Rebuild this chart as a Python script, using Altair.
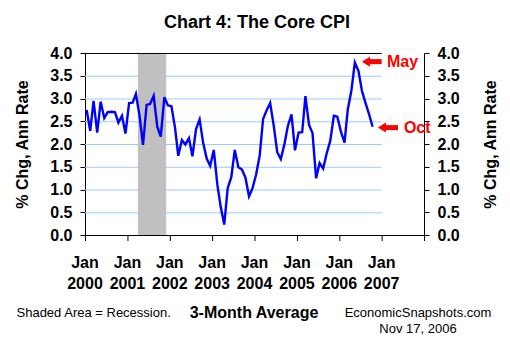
import altair as alt
import pandas as pd

# ---- data ----
core_cpi = [
    2.75, 2.29, 2.95, 2.25, 2.93, 2.57, 2.70, 2.71, 2.70, 2.47, 2.62, 2.23,  # 2000
    2.90, 2.91, 3.10, 2.62, 1.98, 2.86, 2.88, 3.06, 2.38, 2.16, 3.03, 2.85,  # 2001
    2.83, 2.36, 1.74, 2.09, 1.99, 2.13, 1.73, 2.33, 2.54, 2.03, 1.68, 1.52,  # 2002
    1.87, 1.10, 0.63, 0.23, 1.03, 1.27, 1.87, 1.49, 1.44, 1.26, 0.85, 1.03,  # 2003
    1.33, 1.75, 2.55, 2.74, 2.90, 2.40, 1.82, 1.67, 2.00, 2.40, 2.65, 1.86,  # 2004
    2.25, 2.26, 3.05, 2.42, 2.24, 1.25, 1.58, 1.46, 1.80, 2.07, 2.62, 2.60,  # 2005
    2.27, 2.03, 2.76, 3.17, 3.79, 3.61, 3.17, 2.90, 2.65, 2.38,              # 2006
]
months = [f"{2000 + i // 12}/{i % 12 + 1:02d}/15" for i in range(len(core_cpi))]
grid_values = [0.5, 1.0, 1.5, 2.0, 2.5, 3.0, 3.5]
y_ticks = [0.0, 0.5, 1.0, 1.5, 2.0, 2.5, 3.0, 3.5, 4.0]
tick_dates = [f"{y}/01/01" for y in range(2000, 2009)]
label_dates = [f"{y}/01/01" for y in range(2000, 2008)]
label_month = ["Jan"] * 8
label_year = [str(y) for y in range(2000, 2008)]
recession = {"start": ["2001/04/01"], "end": ["2001/12/01"]}
annotations = {
    "label": ["May", "Oct"],
    "value": [3.81, 2.36],
    "tip": ["2006/07/15", "2006/11/30"],
    "shaft_start": ["2006/08/20", "2007/01/10"],
    "shaft_end": ["2007/01/01", "2007/05/22"],
    "text_at": ["2007/02/16", "2007/07/12"],
}

FONT = "Liberation Sans"
H = 182
df = pd.DataFrame({"date": months, "value": core_cpi})
df_grid = pd.DataFrame({"y": grid_values, "x0": "2000/01/01", "x1": "2007/01/01"})
df_rec = pd.DataFrame(recession)
df_rec["y0"] = 0.0
df_rec["y1"] = 4.0
df_top = pd.DataFrame({"y": [4.0], "x0": ["2000/01/01"], "x1": ["2007/01/01"]})
df_base = pd.DataFrame({"y": [0.0], "x0": ["2000/01/01"], "x1": ["2008/01/01"]})
df_ticks = pd.DataFrame({"d": tick_dates})
df_labels = pd.DataFrame({"d": label_dates, "m": label_month, "yr": label_year})
df_ann = pd.DataFrame(annotations)

xscale = alt.Scale(domain=[alt.DateTime(year=2000, month=1, date=1),
                           alt.DateTime(year=2008, month=1, date=1)])
yscale = alt.Scale(domain=[0, 4], nice=False, zero=False)


def X(field):
    return alt.X(field, scale=xscale, axis=None)


def Y(field):
    return alt.Y(field, scale=yscale, axis=None)


def yaxis(orient, tx):
    return alt.Axis(
        orient=orient, values=y_ticks, format=".1f",
        labelFont=FONT, labelFontSize=16, labelFontWeight="bold", labelColor="black",
        labelPadding=8, tickSize=5, tickColor="black", domainColor="black", grid=False,
        title="% Chg, Ann Rate", titleFont=FONT, titleFontSize=16, titleFontWeight="bold",
        titleColor="black", titleX=tx, titleY=91, titleAngle=270, titleAlign="center",
        titleBaseline="middle",
    )


grid = alt.Chart(df_grid).mark_rule(color="#99CCFF", strokeWidth=1, yOffset=0.5).encode(
    x=X("x0:T"), x2="x1:T", y=Y("y:Q"))
rec = alt.Chart(df_rec).mark_rect(color="#C0C0C0").encode(
    x=X("start:T"), x2="end:T", y=Y("y0:Q"), y2="y1:Q")
top = alt.Chart(df_top).mark_rule(color="black", strokeWidth=1, yOffset=0.5).encode(
    x=X("x0:T"), x2="x1:T", y=Y("y:Q"))
base = alt.Chart(df_base).mark_rule(color="black", strokeWidth=1, yOffset=0.5).encode(
    x=X("x0:T"), x2="x1:T", y=Y("y:Q"))
ticks = alt.Chart(df_ticks).mark_rule(color="black", strokeWidth=1, xOffset=0.5).encode(
    x=X("d:T"), y=alt.value(H), y2=alt.value(H + 6))
lab_m = alt.Chart(df_labels).mark_text(
    font=FONT, fontSize=16, fontWeight="bold", color="black", baseline="middle"
).encode(x=X("d:T"), y=alt.value(209.5), text="m:N")
lab_y = alt.Chart(df_labels).mark_text(
    font=FONT, fontSize=16, fontWeight="bold", color="black", baseline="middle"
).encode(x=X("d:T"), y=alt.value(230.5), text="yr:N")

line = alt.Chart(df).mark_line(color="#0000FF", strokeWidth=2.4).encode(
    x=X("date:T"),
    y=alt.Y("value:Q", scale=yscale, axis=yaxis("left", -63)),
)
right = alt.Chart(df).mark_line(opacity=0).encode(
    x=X("date:T"),
    y=alt.Y("value:Q", scale=yscale, axis=yaxis("right", 66)),
)
shaft = alt.Chart(df_ann).mark_rule(color="#FF0000", strokeWidth=5).encode(
    x=X("shaft_start:T"), x2="shaft_end:T", y=Y("value:Q"))
head = alt.Chart(df_ann).mark_point(
    shape="M0,0L1.6,-1L1.6,1Z", filled=True, size=100, color="#FF0000", opacity=1, strokeWidth=0
).encode(x=X("tip:T"), y=Y("value:Q"))
ann_text = alt.Chart(df_ann).mark_text(
    color="#FF0000", font=FONT, fontSize=16, fontWeight="bold", align="left", baseline="middle"
).encode(x=X("text_at:T"), y=Y("value:Q"), text="label:N")


def label(txt, x, y, size, weight="normal", align="center"):
    return alt.Chart(pd.DataFrame({"t": [txt]})).mark_text(
        font=FONT, fontSize=size, fontWeight=weight, color="black", align=align, baseline="middle"
    ).encode(x=alt.value(x), y=alt.value(y), text="t:N")


title = label("Chart 4: The Core CPI", 172, -30, 18, "bold")
f1 = label("Shaded Area = Recession.", -68.5, 259.5, 13, "normal", "left")
f2 = label("3-Month Average", 169, 259.5, 16, "bold")
f3 = label("EconomicSnapshots.com", 333, 259.5, 13)
f4 = label("Nov 17, 2006", 333, 276, 13)

chart = alt.layer(
    grid, rec, top, base, ticks, lab_m, lab_y, line, right, shaft, head, ann_text,
    title, f1, f2, f3, f4
).resolve_scale(y="independent").properties(
    width=339, height=H,
    autosize=alt.AutoSizeParams(type="none"),
    padding={"left": 85, "top": 53, "right": 86, "bottom": 110},
    background="white",
).configure_view(stroke=None)

chart.save("out.html", embed_options={"renderer": "svg", "actions": False})
